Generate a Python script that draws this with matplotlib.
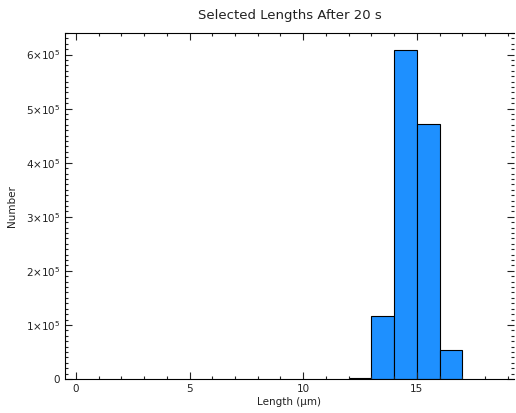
import matplotlib
matplotlib.use("Agg")
import matplotlib.pyplot as plt
from matplotlib.ticker import FuncFormatter, MultipleLocator

# histogram bins (µm) and counts
bin_edges = [12, 13, 14, 15, 16, 17]
counts = [2500, 117000, 609000, 472000, 54000]


def sci_label(v, pos):
    if v == 0:
        return "0"
    m = int(round(v / 1e5))
    return r"$%d{\times}10^{5}$" % m


fig = plt.figure(figsize=(5.16, 4.13), dpi=100)
ax = fig.add_axes([0.126, 0.0823, 0.87, 0.838])

lefts = bin_edges[:-1]
widths = [b - a for a, b in zip(bin_edges[:-1], bin_edges[1:])]
ax.bar(lefts, counts, width=widths, align="edge", color="#1E90FF",
       edgecolor="black", linewidth=0.8)

ax.set_xlim(-0.48, 19.27)
ax.set_ylim(0, 6.4e5)

ax.xaxis.set_major_locator(MultipleLocator(5))
ax.xaxis.set_minor_locator(MultipleLocator(1))
ax.yaxis.set_major_locator(MultipleLocator(1e5))
ax.yaxis.set_minor_locator(MultipleLocator(1e4))
ax.yaxis.set_major_formatter(FuncFormatter(sci_label))

ax.tick_params(which="both", direction="in", top=True, right=True,
               labelsize=7.5, width=0.8, colors="#222222", labelcolor="#222222")
ax.tick_params(which="major", length=5)
ax.tick_params(which="minor", length=2.5)
ax.spines["right"].set_visible(False)

ax.set_xlabel("Length (µm)", fontsize=7.5, labelpad=2, color="#222222")
ax.set_ylabel("Number", fontsize=7.5, labelpad=6, color="#222222")
ax.set_title("Selected Lengths After 20 s", fontsize=9.5, pad=10, color="#222222")

fig.savefig("out.png", dpi=100)
